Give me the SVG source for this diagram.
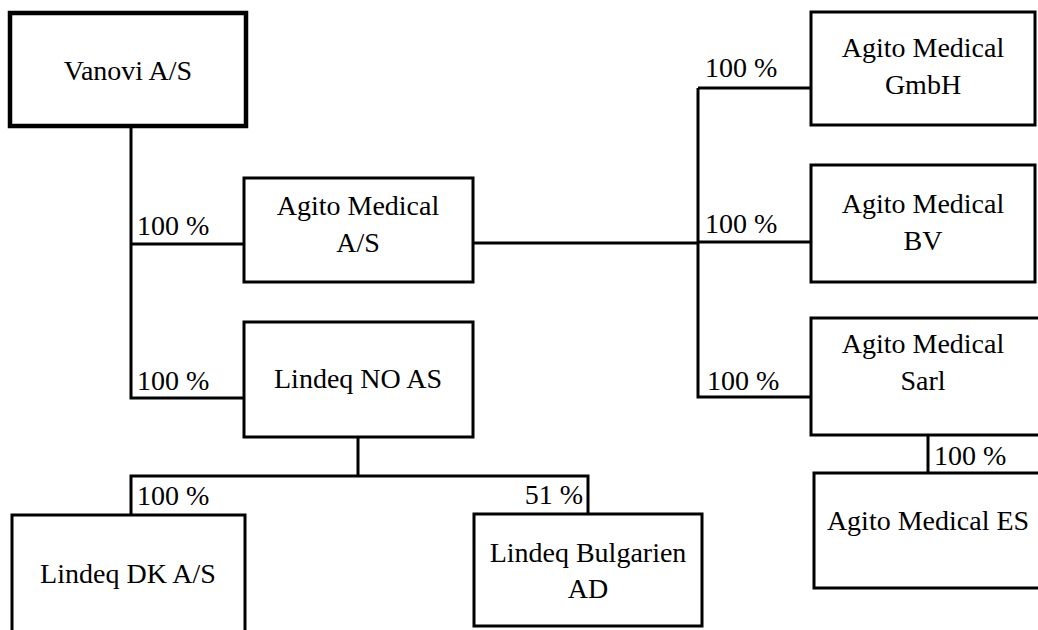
<svg xmlns="http://www.w3.org/2000/svg" width="1038" height="630" viewBox="0 0 1038 630">
<style>
.box{fill:#fff;stroke:#000;stroke-width:3}
.thick{stroke-width:4.5}
.t{font-family:"Liberation Serif","Times New Roman",serif;font-size:28px;fill:#000;text-anchor:middle}
.l{font-family:"Liberation Serif","Times New Roman",serif;font-size:28px;fill:#000}
.c{fill:none;stroke:#000;stroke-width:3}
</style>
<rect width="1038" height="630" fill="#fff"/>
<g id="connectors">
<path class="c" d="M131 126 V398 H244 M131 244 H244"/>
<path class="c" d="M473 243 H698 M698 88 V397 H811 M698 88 H811 M698 242 H811"/>
<path class="c" d="M928 435 V473"/>
<path class="c" d="M358 437 V476 M131 515 V476 H588 V514"/>
</g>
<g id="labels">
<text class="l" x="137" y="235">100 %</text>
<text class="l" x="137" y="390">100 %</text>
<text class="l" x="705" y="77">100 %</text>
<text class="l" x="705" y="233">100 %</text>
<text class="l" x="707" y="390">100 %</text>
<text class="l" x="934" y="465">100 %</text>
<text class="l" x="137" y="505">100 %</text>
<text class="l" x="583" y="504" text-anchor="end">51 %</text>
</g>
<g id="vanovi">
<rect class="box thick" x="10" y="13" width="236" height="113"/>
<text class="t" x="128" y="80">Vanovi A/S</text>
</g>
<g id="agito-as">
<rect class="box" x="244" y="178" width="229" height="104"/>
<text class="t" x="358" y="215">Agito Medical</text>
<text class="t" x="358" y="252">A/S</text>
</g>
<g id="lindeq-no">
<rect class="box" x="244" y="322" width="229" height="115"/>
<text class="t" x="358" y="388">Lindeq NO AS</text>
</g>
<g id="gmbh">
<rect class="box" x="811" y="12" width="224" height="113"/>
<text class="t" x="923" y="57">Agito Medical</text>
<text class="t" x="923" y="94">GmbH</text>
</g>
<g id="bv">
<rect class="box" x="811" y="165" width="224" height="117"/>
<text class="t" x="923" y="213">Agito Medical</text>
<text class="t" x="923" y="250">BV</text>
</g>
<g id="sarl">
<rect class="box" x="811" y="318" width="232" height="117"/>
<text class="t" x="923" y="353">Agito Medical</text>
<text class="t" x="923" y="390">Sarl</text>
</g>
<g id="es">
<rect class="box" x="814" y="473" width="230" height="115"/>
<text class="t" x="928" y="530">Agito Medical ES</text>
</g>
<g id="lindeq-dk">
<rect class="box" x="12" y="515" width="233" height="120"/>
<text class="t" x="128" y="583">Lindeq DK A/S</text>
</g>
<g id="lindeq-bg">
<rect class="box" x="474" y="514" width="228" height="112"/>
<text class="t" x="588" y="562">Lindeq Bulgarien</text>
<text class="t" x="588" y="598">AD</text>
</g>
</svg>
